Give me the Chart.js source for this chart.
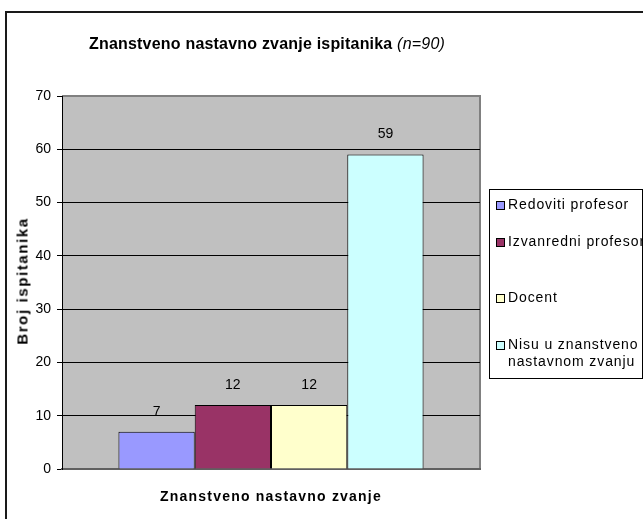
<!DOCTYPE html>
<html>
<head>
<meta charset="utf-8">
<script src="https://cdn.jsdelivr.net/npm/chart.js@4.4.1/dist/chart.umd.min.js"></script>
<style>
  html, body { margin: 0; padding: 0; background: #ffffff; }
  #wrap { position: relative; width: 643px; height: 519px; overflow: hidden;
          font-family: Arial, "Liberation Sans", sans-serif; color: #000; }
  #frame { position: absolute; left: 5px; top: 11px; width: 720px; height: 600px;
           border: 2px solid #1a1a1a; box-sizing: border-box; }
  #chart { position: absolute; left: 0; top: 0; }
  #title { position: absolute; left: 0; width: 534px; top: 35px; text-align: center;
           font-size: 16px; font-weight: bold; letter-spacing: 0.2px; white-space: nowrap; }
  #title i { font-weight: normal; }
  #xtitle { position: absolute; left: 62px; width: 418px; top: 488px; text-align: center;
            font-size: 14px; font-weight: bold; letter-spacing: 1.2px; white-space: nowrap; }
  #ytitle { position: absolute; left: 22px; top: 281px; font-size: 15px; font-weight: bold;
            letter-spacing: 1.6px; white-space: nowrap; transform: translate(-50%, -50%) rotate(-90deg); }
  #legend { position: absolute; left: 489px; top: 189px; width: 154px; height: 190px;
            border: 1px solid #000; box-sizing: border-box; overflow: hidden; }
  .item { position: absolute; left: 6px; display: flex; align-items: flex-start;
          font-size: 14px; letter-spacing: 0.9px; line-height: 17px; width: 170px; }
  .item .tx { width: 145px; }
  .sw { width: 7px; height: 7px; border: 1px solid #000; flex: 0 0 auto; margin-top: 5px; margin-right: 3px; }
</style>
</head>
<body>
<div id="wrap">
  <div id="frame"></div>
  <canvas id="chart" width="643" height="519"></canvas>
  <div id="title"></div>
  <div id="ytitle"></div>
  <div id="xtitle"></div>
  <div id="legend"></div>
</div>
<script>
// ---- data ----
const chartTitle = "Znanstveno nastavno zvanje ispitanika";
const chartSubtitle = "(n=90)";
const yAxisTitle = "Broj ispitanika";
const xAxisTitle = "Znanstveno nastavno zvanje";
const categories = [""];
const seriesNames = ["Redoviti profesor", "Izvanredni profesor", "Docent", "Nisu u znanstveno nastavnom zvanju"];
const seriesValues = [7, 12, 12, 59];
const seriesColors = ["#9999FF", "#993366", "#FFFFCC", "#CCFFFF"];
const yTicks = [0, 10, 20, 30, 40, 50, 60, 70];

// ---- texts ----
const tMain = document.createElement('span'); tMain.textContent = chartTitle + ' ';
const tSub = document.createElement('i'); tSub.textContent = chartSubtitle;
document.getElementById('title').append(tMain, tSub);
document.getElementById('ytitle').textContent = yAxisTitle;
document.getElementById('xtitle').textContent = xAxisTitle;

// legend (HTML)
const legendTops = [6, 43, 99, 146];
const legend = document.getElementById('legend');
seriesNames.forEach((name, i) => {
  const it = document.createElement('div');
  it.className = 'item';
  it.style.top = legendTops[i] + 'px';
  const sw = document.createElement('div');
  sw.className = 'sw';
  sw.style.background = seriesColors[i];
  const tx = document.createElement('div');
  tx.className = 'tx';
  tx.textContent = name;
  it.append(sw, tx);
  legend.appendChild(it);
});

// ---- plugins ----
const plotBg = {
  id: 'plotBg',
  beforeDraw(chart) {
    const { ctx, chartArea: a } = chart;
    ctx.save();
    ctx.fillStyle = '#C0C0C0';
    ctx.fillRect(a.left, a.top, a.right - a.left, a.bottom - a.top);
    ctx.strokeStyle = '#808080';
    ctx.lineWidth = 2;
    ctx.beginPath();
    ctx.moveTo(a.left, a.top);
    ctx.lineTo(a.right, a.top);
    ctx.lineTo(a.right, a.bottom);
    ctx.stroke();
    ctx.restore();
  }
};
const valueLabels = {
  id: 'valueLabels',
  afterDatasetsDraw(chart) {
    const { ctx } = chart;
    ctx.save();
    ctx.font = '14px Arial, "Liberation Sans", sans-serif';
    ctx.fillStyle = '#000';
    ctx.textAlign = 'center';
    ctx.textBaseline = 'middle';
    chart.data.datasets.forEach((ds, i) => {
      const meta = chart.getDatasetMeta(i);
      meta.data.forEach((bar, j) => {
        ctx.fillText(String(ds.data[j]), bar.x, bar.y - 20);
      });
    });
    ctx.restore();
  }
};

new Chart(document.getElementById('chart'), {
  type: 'bar',
  data: {
    labels: categories,
    datasets: seriesNames.map((n, i) => ({
      label: n,
      data: [seriesValues[i]],
      backgroundColor: seriesColors[i],
      borderColor: '#000',
      borderWidth: 1,
      categoryPercentage: 0.73,
      barPercentage: 1.0
    }))
  },
  options: {
    responsive: false,
    animation: false,
    devicePixelRatio: 1,
    layout: { padding: { left: 5, right: 163, top: 96, bottom: 50 } },
    plugins: { legend: { display: false }, tooltip: { enabled: false }, title: { display: false } },
    scales: {
      x: {
        ticks: { display: false },
        grid: { display: false },
        border: { display: true, color: '#606060', width: 2 },
        afterFit(s) { s.height = 0; }
      },
      y: {
        min: yTicks[0], max: yTicks[yTicks.length - 1],
        afterBuildTicks(s) { s.ticks = yTicks.map(v => ({ value: v })); },
        ticks: { color: '#000', font: { family: 'Arial, "Liberation Sans", sans-serif', size: 14 }, padding: 6 },
        grid: {
          color: c => (c.tick && (c.tick.value === 70 || c.tick.value === 0)) ? 'rgba(0,0,0,0)' : '#000',
          tickColor: '#000', tickLength: 5, lineWidth: 1
        },
        border: { display: true, color: '#000', width: 1 },
        afterFit(s) { s.width = 57; }
      }
    }
  },
  plugins: [plotBg, valueLabels]
});
</script>
</body>
</html>
